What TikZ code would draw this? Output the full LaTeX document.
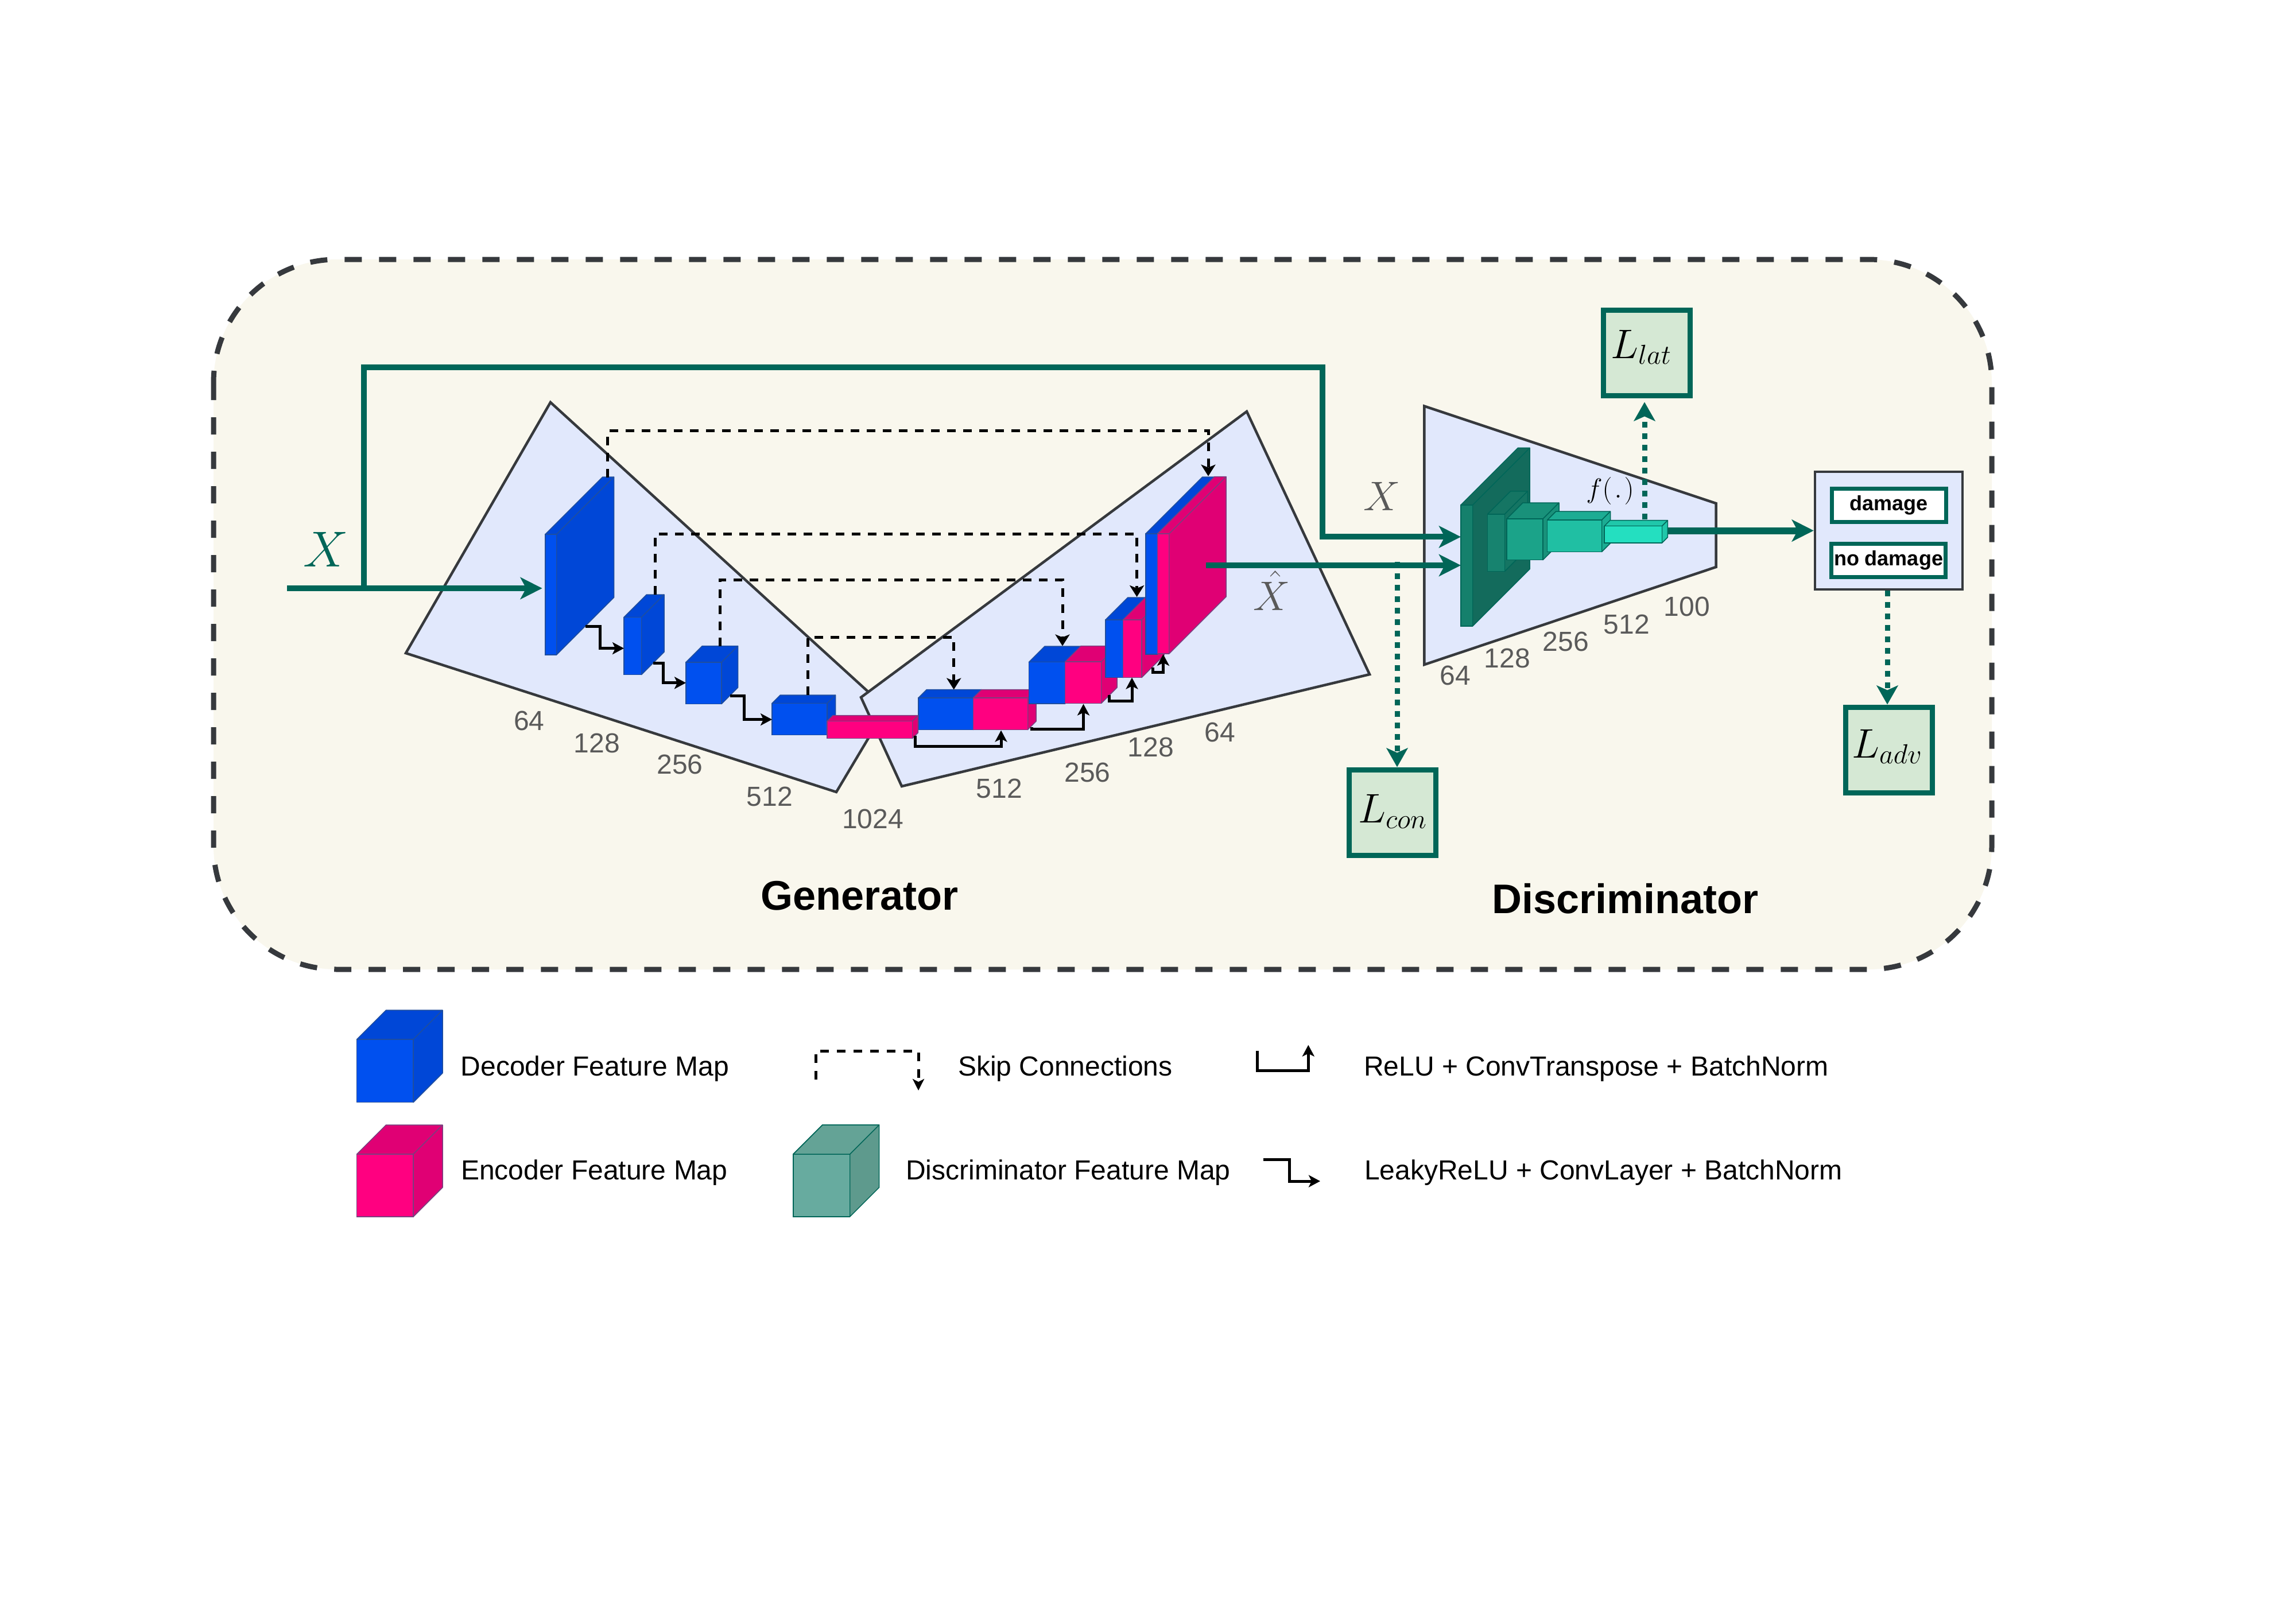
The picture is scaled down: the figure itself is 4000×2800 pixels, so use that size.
\RequirePackage{fix-cm}
\documentclass[tikz,border=0pt]{standalone}
\usepackage{fontspec}
\setmainfont{Liberation Sans}
\usetikzlibrary{arrows.meta}
\definecolor{teal1}{HTML}{006658}
\definecolor{framefill}{HTML}{F9F7ED}
\definecolor{framedraw}{HTML}{36393D}
\definecolor{polyfill}{HTML}{E1E8FC}
\definecolor{lossfill}{HTML}{D5E8D4}
\definecolor{graytxt}{HTML}{5A5A5A}
\definecolor{bluef}{HTML}{0050EF}
\definecolor{blues}{HTML}{0047D7}
\definecolor{bluel}{HTML}{1F4E9E}
\definecolor{pinkf}{HTML}{FF0080}
\definecolor{pinks}{HTML}{E00074}
\definecolor{pinkl}{HTML}{7A3F7F}
\definecolor{legf}{HTML}{67AB9F}
\definecolor{legs}{HTML}{5E9A8D}
\definecolor{legt}{HTML}{64A396}
\definecolor{da}{HTML}{15806C}
\definecolor{das}{HTML}{136B5C}
\definecolor{db}{HTML}{17836F}
\definecolor{dbs}{HTML}{157563}
\definecolor{dc}{HTML}{1BA389}
\definecolor{dcs}{HTML}{19917A}
\definecolor{dd}{HTML}{20BFA3}
\definecolor{dds}{HTML}{1CAC93}
\definecolor{de}{HTML}{24DFC0}
\definecolor{des}{HTML}{20C7AA}
% name, x, y (top-left of front), w, h, depth, front, darker, stroke
\newcommand{\cubeshape}[9]{%
  \fill[#8,draw=#9,line width=1.5pt,line join=round]
    (#2,#3) -- ++(#6,-#6) -- ++(#4,0) -- ++(0,#5) -- ++(-#6,#6) -- ++(0,-#5) -- ++(-#4,0) -- cycle;
  \draw[#9,line width=1.5pt] (#2+#4,#3) -- ++(#6,-#6);
  \node[rectangle,draw=#9,fill=#7,line width=1.5pt,inner sep=0pt,outer sep=0pt,
        minimum width=#4 pt,minimum height=#5 pt] (#1) at ({#2+#4/2},{#3+#5/2}) {};
}
\newcommand{\subsized}[1]{\mbox{\fontsize{48}{50}\selectfont$#1$}}
\tikzset{
  x=1pt,y=-1pt,
  polyshape/.style={draw=framedraw,fill=polyfill,line width=4.5pt,line join=miter},
  numlabel/.style={text=graytxt,font=\fontsize{48}{54}\selectfont,inner sep=0pt},
  legtext/.style={text=black,font=\fontsize{48}{54}\selectfont,inner sep=0pt,anchor=west},
  titletext/.style={text=black,font=\bfseries\fontsize{72}{80}\selectfont,inner sep=0pt},
  lossbox/.style={draw=teal1,fill=lossfill,line width=9pt,minimum width=151pt,minimum height=149pt,inner sep=0pt},
  losstext/.style={anchor=base west,inner sep=0pt,font=\fontsize{72}{80}\selectfont},
  classbox/.style={draw=teal1,fill=white,line width=7pt,minimum width=199pt,minimum height=58pt,inner sep=0pt,
     font=\bfseries\fontsize{36}{40}\selectfont},
  mainflow/.style={draw=teal1,line width=10pt,-{Stealth[length=38pt,width=38pt,inset=10pt]}},
  dotflow/.style={draw=teal1,line width=9pt,dash pattern=on 10pt off 10pt,-{Stealth[length=33pt,width=37pt,inset=8pt]}},
  skipflow/.style={draw=black,line width=5pt,dash pattern=on 15pt off 13pt,-{Stealth[length=20pt,width=25pt,inset=5pt]}},
  upflow/.style={draw=black,line width=5pt,-{Stealth[length=20pt,width=21pt,inset=5pt]}},
  legskip/.style={draw=black,line width=5pt,dash pattern=on 15pt off 14pt,-{Stealth[length=20pt,width=20pt,inset=5pt]}},
}
\begin{document}
\begin{tikzpicture}
\useasboundingbox (0,0) rectangle (4000,2800);
\fill[white] (0,0) rectangle (4000,2800);
% frame
\draw[draw=framedraw,fill=framefill,line width=9pt,dash pattern=on 30pt off 30pt,rounded corners=215pt]
  (372,452) rectangle (3470,1689);
% panels
\draw[polyshape] (959,701) -- (707,1138) -- (1457,1380) -- (1544,1234) -- cycle;
\draw[polyshape] (2172,717) -- (2386,1175) -- (1571,1370) -- (1500,1215) -- cycle;
\draw[polyshape] (2481.4,707.6) -- (2989.5,877) -- (2989.5,988) -- (2481.4,1158) -- cycle;
% upper X path
\coordinate (xs) at (500,1025);
\coordinate (xb) at (634,1025);
\coordinate (xt1) at (634,640);
\coordinate (xt2) at (2304,640);
\coordinate (xt3) at (2304,935.4);
\coordinate (xd) at (2545,935.4);
\coordinate (xe) at (944.6,1025);
\draw[mainflow] (xb) -- (xt1) -- (xt2) -- (xt3) -- (xd);
% encoder cubes
\cubeshape{c1}{950}{931}{19.5}{210}{100}{bluef}{blues}{bluel}
\cubeshape{c2}{1087}{1075.5}{30.5}{100}{39.5}{bluef}{blues}{bluel}
\cubeshape{c3}{1195}{1154}{62}{72.5}{28.5}{bluef}{blues}{bluel}
\cubeshape{c4}{1345}{1225.5}{96}{55}{14.5}{bluef}{blues}{bluel}
% decoder cubes
\cubeshape{d4}{1600}{1216}{95.5}{55.4}{14.5}{bluef}{blues}{bluel}
\cubeshape{e4}{1695.5}{1216}{95}{55.4}{14.5}{pinkf}{pinks}{pinkl}
\cubeshape{d3}{1792.5}{1153.6}{63}{72.4}{27.5}{bluef}{blues}{bluel}
\cubeshape{e3}{1855.6}{1153}{63}{72.4}{27.5}{pinkf}{pinks}{pinkl}
\cubeshape{d2}{1925.8}{1080}{30.6}{100.6}{39}{bluef}{blues}{bluel}
\cubeshape{e2}{1956.4}{1080}{32.6}{100.6}{39}{pinkf}{pinks}{pinkl}
\cubeshape{d1}{1996}{930}{20.5}{210}{99}{bluef}{blues}{bluel}
\cubeshape{e1}{2016.5}{930}{20.2}{209}{99.5}{pinkf}{pinks}{pinkl}
% bottleneck
\cubeshape{bn}{1441}{1256.6}{148.4}{30}{10}{pinkf}{pinks}{pinkl}
% discriminator cubes
\cubeshape{f1}{2545}{879.8}{20.6}{211}{99.5}{da}{das}{teal1}
\cubeshape{f2}{2591.6}{895.8}{29.8}{99.8}{40}{db}{dbs}{teal1}
\cubeshape{f3}{2625}{904}{63}{71.6}{28}{dc}{dcs}{teal1}
\cubeshape{f4}{2695.7}{906}{94.8}{55.5}{15}{dd}{dds}{teal1}
\cubeshape{f5}{2795}{916.6}{100.4}{29.4}{10}{de}{des}{teal1}
% X input arrow
\draw[mainflow] (xs) -- (xe);
% skip connections
\coordinate (s1a) at (1058.8,831.6); \coordinate (s1b) at (1058.8,750.5); \coordinate (s1c) at (2105,750.5); \coordinate (s1d) at (2105,829.6);
\coordinate (s2a) at (1141.7,1035.7); \coordinate (s2b) at (1141.7,930); \coordinate (s2c) at (1980.6,930); \coordinate (s2d) at (1980.6,1040);
\coordinate (s3a) at (1254,1126); \coordinate (s3b) at (1254,1010); \coordinate (s3c) at (1851,1010); \coordinate (s3d) at (1851,1125.5);
\coordinate (s4a) at (1407.7,1210.7); \coordinate (s4b) at (1407.7,1110); \coordinate (s4c) at (1661.7,1110); \coordinate (s4d) at (1661.7,1201.5);
\draw[skipflow] (s1a) -- (s1b) -- (s1c) -- (s1d);
\draw[skipflow] (s2a) -- (s2b) -- (s2c) -- (s2d);
\draw[skipflow] (s3a) -- (s3b) -- (s3c) -- (s3d);
\draw[skipflow] (s4a) -- (s4b) -- (s4c) -- (s4d);
% encoder steps
\coordinate (a1a) at (1020,1091); \coordinate (a1b) at (1045.4,1091); \coordinate (a1c) at (1045.4,1129.6); \coordinate (a1d) at (1087,1129.6);
\coordinate (a2a) at (1138,1155); \coordinate (a2b) at (1155.7,1155); \coordinate (a2c) at (1155.7,1189.8); \coordinate (a2d) at (1195,1189.8);
\coordinate (a3a) at (1272,1212); \coordinate (a3b) at (1296,1212); \coordinate (a3c) at (1296,1253.6); \coordinate (a3d) at (1345,1253.6);
\draw[upflow] (a1a) -- (a1b) -- (a1c) -- (a1d);
\draw[upflow] (a2a) -- (a2b) -- (a2c) -- (a2d);
\draw[upflow] (a3a) -- (a3b) -- (a3c) -- (a3d);
% decoder steps
\coordinate (b1a) at (1594,1281.6); \coordinate (b1b) at (1594,1300.5); \coordinate (b1c) at (1744,1300.5); \coordinate (b1d) at (1744,1272.5);
\coordinate (b2a) at (1797,1267); \coordinate (b2b) at (1797,1270.4); \coordinate (b2c) at (1887.5,1270.4); \coordinate (b2d) at (1887.5,1226.5);
\coordinate (b3a) at (1932,1211); \coordinate (b3b) at (1932,1221.4); \coordinate (b3c) at (1972,1221.4); \coordinate (b3d) at (1972,1180.6);
\coordinate (b4a) at (2008,1163); \coordinate (b4b) at (2008,1171); \coordinate (b4c) at (2026.5,1171); \coordinate (b4d) at (2026.5,1140);
\draw[upflow] (b1a) -- (b1b) -- (b1c) -- (b1d);
\draw[upflow] (b2a) -- (b2b) -- (b2c) -- (b2d);
\draw[upflow] (b3a) -- (b3b) -- (b3c) -- (b3d);
\draw[upflow] (b4a) -- (b4b) -- (b4c) -- (b4d);
% loss boxes
\node[lossbox] (llat) at (2868.5,614.5) {};
\node[lossbox] (lcon) at (2425.5,1415.5) {};
\node[lossbox] (ladv) at (3290.5,1306.5) {};
\node[losstext] (llatt) at (2806,624) {$L_{\subsized{lat}}$};
\node[losstext] (lcont) at (2366,1433) {$L_{\subsized{con}}$};
\node[losstext] (ladvt) at (3226,1320) {$L_{\subsized{adv}}$};
% classifier
\node[draw=framedraw,fill=polyfill,line width=4.5pt,minimum width=257pt,minimum height=205pt,inner sep=0pt] (cls) at (3290.5,924.5) {};
\node[classbox] (dmg) at (3290.5,880.5) {\raisebox{-2.5pt}{damage}};
\node[classbox] (nodmg) at (3290,976) {\raisebox{-3pt}{no damage}};
% flows
\coordinate (rs) at (2100.5,985);
\coordinate (re) at (2545,985);
\draw[mainflow] (rs) -- (re);
\coordinate (ds) at (2434,979);
\draw[dotflow] (ds) -- (ds |- lcon.north);
\coordinate (ls) at (2865,905);
\draw[dotflow,shorten >=7pt] (ls) -- (ls |- llat.south);
\coordinate (os) at (2906,924.5);
\draw[mainflow,line width=12pt] (os) -- (cls.west);
\coordinate (as) at (3288,1029);
\draw[dotflow] (as) -- (as |- ladv.north);
% labels
\node[text=teal1,font=\fontsize{88}{96}\selectfont,inner sep=0pt] (xin) at (568,957) {$X$};
\node[text=graytxt,font=\fontsize{72}{80}\selectfont,inner sep=0pt] (xl) at (2407.6,865) {$X$};
\node[text=graytxt,font=\fontsize{72}{80}\selectfont,inner sep=0pt] (xh) at (2216,1029) {$\hat{X}$};
\node[font=\fontsize{48}{54}\selectfont,inner sep=0pt] (fl) at (2805,855) {$f(\mkern1.5mu.\mkern1.5mu)$};
\node[numlabel] (n1) at (921.7,1255.6) {64};
\node[numlabel] (n2) at (1039.7,1295) {128};
\node[numlabel] (n3) at (1184.4,1331.6) {256};
\node[numlabel] (n4) at (1340.7,1387.8) {512};
\node[numlabel] (n5) at (1520.5,1426.5) {1024};
\node[numlabel] (n6) at (1740.8,1373.5) {512};
\node[numlabel] (n7) at (1894.5,1346) {256};
\node[numlabel] (n8) at (2005,1301.5) {128};
\node[numlabel] (n9) at (2125.4,1275.5) {64};
\node[numlabel] (m1) at (2535,1176.5) {64};
\node[numlabel] (m2) at (2626,1147) {128};
\node[numlabel] (m3) at (2727.8,1117.5) {256};
\node[numlabel] (m4) at (2834,1088) {512};
\node[numlabel] (m5) at (2939,1057) {100};
\node[titletext] (gen) at (1497.5,1561) {Generator};
\node[titletext] (dis) at (2831.5,1566) {Discriminator};
% legend
\cubeshape{lg1}{621.6}{1811}{98.4}{109.7}{51}{bluef}{blues}{bluel}
\cubeshape{lg2}{621.6}{2011}{98.4}{109}{51}{pinkf}{pinks}{pinkl}
\cubeshape{lg3}{1382}{2011}{98.6}{109}{51}{legf}{legs}{teal1}
\fill[legt,draw=teal1,line width=1.5pt,line join=round] (lg3.north west) -- ++(51,-51) -- ++(98.6,0) -- ++(-51,51) -- cycle;
\node[legtext] (t1) at (802.7,1862.5) {Decoder Feature Map};
\node[legtext] (t2) at (803,2043.5) {Encoder Feature Map};
\node[legtext] (t3) at (1669,1862.5) {Skip Connections};
\node[legtext] (t4) at (1578,2043.5) {Discriminator Feature Map};
\node[legtext] (t5) at (2376,1862.5) {ReLU + ConvTranspose + BatchNorm};
\node[legtext] (t6) at (2377,2043.5) {LeakyReLU + ConvLayer + BatchNorm};
\coordinate (k1) at (1421,1881); \coordinate (k2) at (1421,1831); \coordinate (k3) at (1600,1831); \coordinate (k4) at (1600,1900);
\draw[legskip] (k1) -- (k2) -- (k3) -- (k4);
\coordinate (u1) at (2190,1830.7); \coordinate (u2) at (2190,1865.7); \coordinate (u3) at (2279.3,1865.7); \coordinate (u4) at (2279.3,1820.7);
\draw[upflow] (u1) -- (u2) -- (u3) -- (u4);
\coordinate (v1) at (2200.7,2020.3); \coordinate (v2) at (2246.3,2020.3); \coordinate (v3) at (2246.3,2058); \coordinate (v4) at (2300,2058);
\draw[upflow] (v1) -- (v2) -- (v3) -- (v4);
\end{tikzpicture}
\end{document}
